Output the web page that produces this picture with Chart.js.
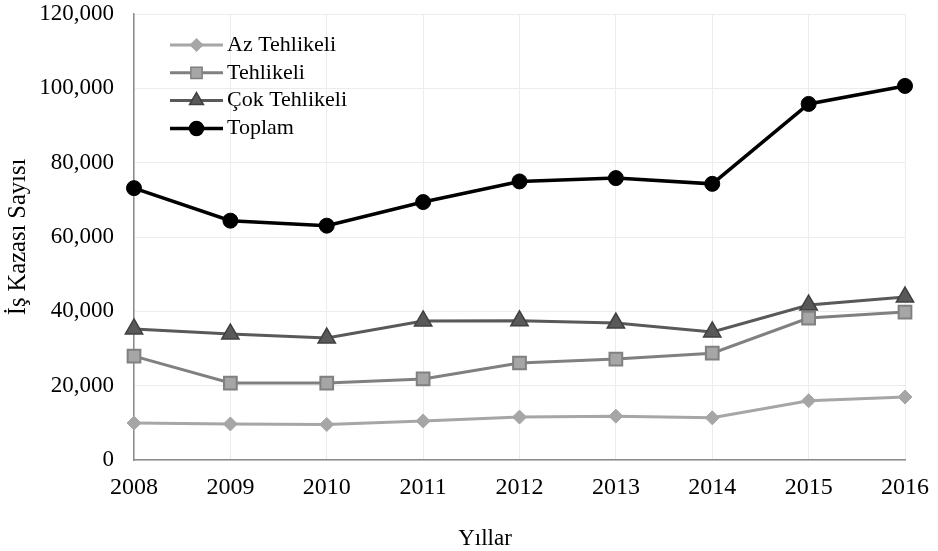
<!DOCTYPE html>
<html>
<head>
<meta charset="utf-8">
<script src="https://cdn.jsdelivr.net/npm/chart.js@4/dist/chart.umd.min.js"></script>
<style>
  html, body { margin: 0; padding: 0; background: #fff; }
  #wrap { width: 938px; height: 551px; }
</style>
</head>
<body>
<div id="wrap"><canvas id="chart"></canvas></div>
<script>
'use strict';

// data
const years = ['2008', '2009', '2010', '2011', '2012', '2013', '2014', '2015', '2016'];
const azTehlikeli = [9950, 9700, 9550, 10500, 11550, 11800, 11350, 15950, 16950];
const tehlikeli = [27950, 20700, 20700, 21800, 26100, 27150, 28750, 38200, 39800];
const cokTehlikeli = [35250, 33900, 32800, 37400, 37450, 36850, 34450, 41700, 43850];
const toplam = [73150, 64400, 63050, 69400, 74950, 75850, 74300, 95800, 100650];

const seriesNames = ['Az Tehlikeli', 'Tehlikeli', 'Çok Tehlikeli', 'Toplam'];
const xTitle = 'Yıllar';
const yTitle = 'İş Kazası Sayısı';

const fontFamily = '"Liberation Serif", "Times New Roman", serif';

// legend drawn inside the plot, line + marker like the original
// (x axis title also drawn here: the original sits a bit left of the plot centre)
const lineLegend = {
    id: 'lineLegend',
    afterDraw(chart) {
        const ctx = chart.ctx;
        const x0 = 170, x1 = 223, y0 = 45, rowH = 27.8;
        ctx.save();
        chart.data.datasets.forEach((ds, i) => {
            const y = y0 + i * rowH;
            ctx.strokeStyle = ds.borderColor;
            ctx.lineWidth = ds.borderWidth;
            ctx.beginPath();
            ctx.moveTo(x0, y);
            ctx.lineTo(x1, y);
            ctx.stroke();
            ctx.fillStyle = ds.pointBackgroundColor;
            ctx.strokeStyle = ds.pointBorderColor;
            ctx.lineWidth = 1.5;
            Chart.helpers.drawPoint(ctx, {
                pointStyle: ds.pointStyle,
                radius: ds.legendRadius,
                rotation: 0,
                borderWidth: 1.5
            }, (x0 + x1) / 2, y);
            ctx.fillStyle = '#000';
            ctx.font = '22px ' + fontFamily;
            ctx.textBaseline = 'middle';
            ctx.textAlign = 'left';
            ctx.fillText(ds.label, x1 + 4, y);
        });

        ctx.fillStyle = '#000';
        ctx.font = '23px ' + fontFamily;
        ctx.textAlign = 'center';
        ctx.textBaseline = 'alphabetic';
        ctx.fillText(xTitle, 485, 545);
        ctx.restore();
    }
};

const chartCtx = document.querySelector('#chart');

const chartData = {
    labels: years,
    datasets: [
        {
            label: seriesNames[0],
            data: azTehlikeli,
            borderColor: '#a6a6a6',
            borderWidth: 3,
            pointStyle: 'rectRot',
            pointRadius: 7,
            legendRadius: 6,
            pointBackgroundColor: '#a6a6a6',
            pointBorderColor: '#a6a6a6',
            pointBorderWidth: 1
        },
        {
            label: seriesNames[1],
            data: tehlikeli,
            borderColor: '#808080',
            borderWidth: 3,
            pointStyle: 'rect',
            pointRadius: 9,
            legendRadius: 8,
            pointBackgroundColor: '#a6a6a6',
            pointBorderColor: '#808080',
            pointBorderWidth: 2
        },
        {
            label: seriesNames[2],
            data: cokTehlikeli,
            borderColor: '#595959',
            borderWidth: 3,
            pointStyle: 'triangle',
            pointRadius: 10,
            legendRadius: 8,
            pointBackgroundColor: '#595959',
            pointBorderColor: '#404040',
            pointBorderWidth: 1.5
        },
        {
            label: seriesNames[3],
            data: toplam,
            borderColor: '#000000',
            borderWidth: 3.5,
            pointStyle: 'circle',
            pointRadius: 7.5,
            legendRadius: 7,
            pointBackgroundColor: '#000000',
            pointBorderColor: '#000000',
            pointBorderWidth: 1
        }
    ]
};

const chartConfig = {
    type: 'line',
    data: chartData,
    options: {
        responsive: true,
        maintainAspectRatio: false,
        animation: false,
        layout: {
            autoPadding: false,
            padding: { top: 0, right: 0, bottom: 2, left: 4 }
        },
        scales: {
            x: {
                grid: { color: '#ececec', lineWidth: 1, drawTicks: false },
                border: { color: '#8c8c8c', width: 1.5 },
                ticks: {
                    color: '#000',
                    padding: 16,
                    maxRotation: 0,
                    font: { family: fontFamily, size: 24, lineHeight: 1 }
                },
                title: { display: false, text: xTitle },
                afterFit: scale => {
                    scale.height = 89;
                    scale.paddingRight = 33;
                }
            },
            y: {
                min: 0,
                max: 120000,
                grid: { color: '#ececec', lineWidth: 1, drawTicks: false },
                border: { color: '#8c8c8c', width: 1.5 },
                ticks: {
                    stepSize: 20000,
                    color: '#000',
                    padding: 20,
                    font: { family: fontFamily, size: 23, lineHeight: 1 },
                    callback: value => value.toLocaleString('en-US')
                },
                title: {
                    display: true,
                    text: yTitle,
                    color: '#000',
                    padding: { top: 2, bottom: 9 },
                    font: { family: fontFamily, size: 24.5, lineHeight: 1 }
                },
                afterFit: scale => {
                    scale.width = 130;
                    scale.paddingTop = 14;
                }
            }
        },
        plugins: {
            legend: { display: false },
            tooltip: { enabled: false }
        }
    },
    plugins: [lineLegend]
};

const accidentChart = new Chart(chartCtx, chartConfig);
</script>
</body>
</html>
